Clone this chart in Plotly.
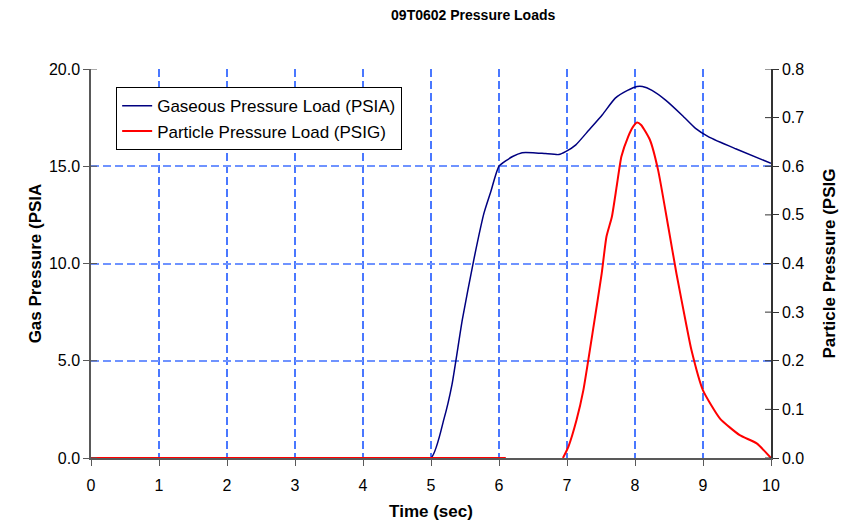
import plotly.graph_objects as go

# Gaseous pressure load (PSIA) vs time (sec)
gas_time = [0.0, 1.0, 2.0, 3.0, 4.0, 5.0, 5.19, 5.31, 5.46, 5.63, 5.78, 5.88, 6.0,
            6.2, 6.34, 6.5, 6.68, 6.88, 6.98, 7.13, 7.32, 7.52, 7.71, 7.89, 8.03,
            8.11, 8.25, 8.45, 8.7, 8.89, 9.09, 9.48, 10.0]
gas_psia = [0.0, 0.0, 0.0, 0.0, 0.0, 0.0, 2.0, 3.8, 7.1, 10.2, 12.6, 13.7, 15.0,
            15.5, 15.7, 15.7, 15.65, 15.6, 15.75, 16.1, 16.85, 17.65, 18.5, 18.9, 19.1,
            19.1, 18.9, 18.4, 17.6, 16.95, 16.5, 15.9, 15.15]

# Particle pressure load (PSIG) vs time (sec); None leaves the gap before the pulse
part_time = [0.0, 1.0, 2.0, 3.0, 4.0, 5.0, 6.1, 6.5,
             6.94, 7.02, 7.14, 7.24, 7.39, 7.51, 7.58, 7.66, 7.73, 7.8, 7.9, 7.97,
             8.03, 8.09, 8.22, 8.34, 8.49, 8.61, 8.76, 8.83, 9.0, 9.25, 9.54, 9.79, 10.0]
part_psig = [0.0, 0.0, 0.0, 0.0, 0.0, 0.0, 0.0, None,
             0.0, 0.023, 0.078, 0.139, 0.27, 0.379, 0.455, 0.496, 0.558, 0.62, 0.661, 0.681,
             0.69, 0.685, 0.654, 0.592, 0.475, 0.379, 0.27, 0.222, 0.139, 0.081, 0.047, 0.03, 0.0]

x_ticks = list(range(0, 11))
left_ticks = [0, 5, 10, 15, 20]
right_ticks = [0.0, 0.1, 0.2, 0.3, 0.4, 0.5, 0.6, 0.7, 0.8]

FONT = "Liberation Sans, Arial, sans-serif"
AXIS_COLOR = "#595959"
RIGHT_AXIS_COLOR = "#333333"
PLOT_W = 845 - 91 - 74  # plot area width in px, for the inner half of the cross ticks
TICK_LEN = 6

fig = go.Figure()
fig.add_trace(go.Scatter(x=gas_time, y=gas_psia, mode="lines",
                         name="Gaseous Pressure Load (PSIA)",
                         line=dict(color="#000080", width=1.5, shape="spline", smoothing=0.5)))
fig.add_trace(go.Scatter(x=part_time, y=part_psig, mode="lines",
                         name="Particle Pressure Load (PSIG)", yaxis="y2",
                         connectgaps=False,
                         line=dict(color="#ff0000", width=2, shape="spline", smoothing=0.5)))

# inner half of the cross-shaped y ticks
inner = TICK_LEN / PLOT_W
for v in left_ticks:
    fig.add_shape(type="line", xref="x domain", yref="y", x0=0, x1=inner, y0=v, y1=v,
                  line=dict(color=AXIS_COLOR, width=1), layer="above")
for v in right_ticks:
    fig.add_shape(type="line", xref="x domain", yref="y2", x0=1 - inner, x1=1, y0=v, y1=v,
                  line=dict(color=RIGHT_AXIS_COLOR, width=1), layer="above")

fig.update_layout(
    width=845, height=525,
    margin=dict(l=91, r=74, t=69, b=67, autoexpand=False),
    paper_bgcolor="white", plot_bgcolor="white",
    font=dict(family=FONT, size=16, color="black"),
    title=dict(text="<b>09T0602 Pressure Loads</b>", x=0.56, xanchor="center",
               y=0.972, yanchor="middle", font=dict(size=14)),
    showlegend=True,
    legend=dict(x=0.037, y=0.953, xanchor="left", yanchor="top",
                bgcolor="white", bordercolor="black", borderwidth=1,
                font=dict(size=17), itemwidth=30, tracegroupgap=0),
    xaxis=dict(range=[0, 10], tickvals=x_ticks, ticktext=[str(v) for v in x_ticks],
               showgrid=True, gridcolor="#4a78ff", griddash="8px,4px", gridwidth=1.5,
               showline=True, linecolor=AXIS_COLOR, linewidth=1.5, layer="below traces",
               ticks="outside", ticklen=TICK_LEN, tickcolor=AXIS_COLOR, zeroline=False,
               ticklabelstandoff=6, automargin=False,
               title=dict(text="<b>Time (sec)</b>", font=dict(size=17), standoff=12)),
    yaxis=dict(range=[0, 20], tickvals=left_ticks, ticktext=[f"{v:.1f}" for v in left_ticks],
               showgrid=True, gridcolor="#6f93ff", griddash="8px,4px", gridwidth=1.5,
               showline=True, linecolor=AXIS_COLOR, linewidth=1.5, layer="below traces",
               ticks="outside", ticklen=TICK_LEN, tickcolor=AXIS_COLOR, zeroline=False,
               automargin=False,
               title=dict(text="<b>Gas Pressure (PSIA</b>", font=dict(size=17), standoff=3)),
    yaxis2=dict(range=[0, 0.8], tickvals=right_ticks, ticktext=[f"{v:.1f}" for v in right_ticks],
                overlaying="y", side="right", anchor="x", showgrid=False,
                showline=True, linecolor=RIGHT_AXIS_COLOR, linewidth=1.5,
                ticks="outside", ticklen=TICK_LEN, tickcolor=RIGHT_AXIS_COLOR, zeroline=False,
                automargin=False,
                title=dict(text="<b>Particle Pressure (PSIG</b>", font=dict(size=17), standoff=20)),
)

fig.write_html("out.html")
